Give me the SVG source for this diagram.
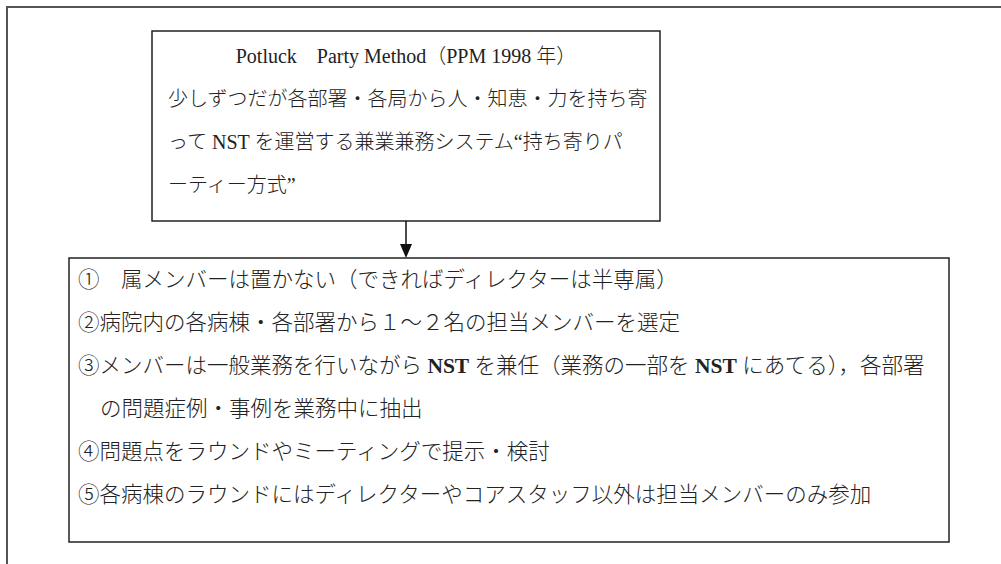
<svg xmlns="http://www.w3.org/2000/svg" width="1001" height="564" viewBox="0 0 1001 564">
<defs>
<style>
.frame{fill:none;stroke:#555;stroke-width:2}
.box{fill:#fff;stroke:#222;stroke-width:1.5}
.t{font-family:"Liberation Serif","Noto Sans CJK JP",serif;fill:#222;font-weight:300}
.top{font-size:20px}
.low{font-size:21.5px}
.b{font-weight:bold}
</style>
<marker id="ah" viewBox="0 0 14 12" refX="0" refY="6" markerWidth="14" markerHeight="12" markerUnits="userSpaceOnUse" orient="auto">
<path d="M0,0 L14,6 L0,12 Z" fill="#111"/>
</marker>
</defs>
<rect width="1001" height="564" fill="#fff"/>
<path class="frame" d="M7,570 L7,7 L1010,7"/>
<g id="ppm">
<rect class="box" x="152" y="31" width="508" height="190"/>
<text class="t top" x="406" y="63" text-anchor="middle">Potluck　Party Method（PPM 1998 年）</text>
<text class="t top" x="168" y="106">少しずつだが各部署・各局から人・知恵・力を持ち寄</text>
<text class="t top" x="168" y="149">って NST を運営する兼業兼務システム“持ち寄りパ</text>
<text class="t top" x="168" y="192">ーティー方式”</text>
</g>
<g id="connectors">
<line x1="406" y1="221" x2="406" y2="244" stroke="#111" stroke-width="1.5" marker-end="url(#ah)"/>
</g>
<g id="rules">
<rect class="box" x="69" y="258" width="880" height="284"/>
<text class="t low" x="78" y="287">①　属メンバーは置かない（できればディレクターは半専属）</text>
<text class="t low" x="78" y="330">②病院内の各病棟・各部署から１～２名の担当メンバーを選定</text>
<text class="t low" x="78" y="373">③メンバーは一般業務を行いながら <tspan class="b">NST</tspan> を兼任（業務の一部を <tspan class="b">NST</tspan> にあてる），各部署</text>
<text class="t low" x="100" y="416">の問題症例・事例を業務中に抽出</text>
<text class="t low" x="78" y="459">④問題点をラウンドやミーティングで提示・検討</text>
<text class="t low" x="78" y="502">⑤各病棟のラウンドにはディレクターやコアスタッフ以外は担当メンバーのみ参加</text>
</g>
</svg>
